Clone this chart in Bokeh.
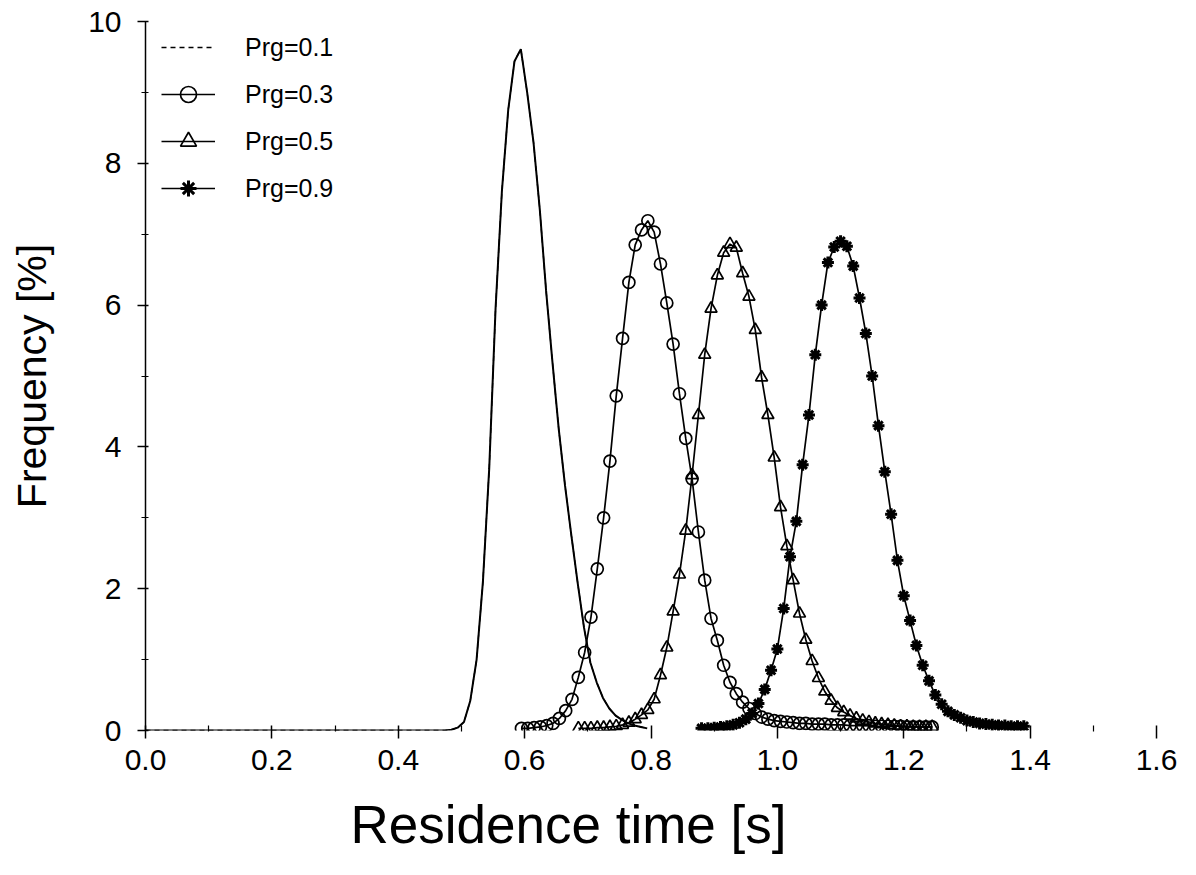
from bokeh.plotting import figure
from bokeh.models import Range1d, Legend, LegendItem, FixedTicker, Title
from bokeh.embed import file_html
from bokeh.resources import INLINE

# ---------------- data ----------------
x_prg01 = [0.0, 0.1, 0.2, 0.3, 0.4, 0.474, 0.484, 0.494, 0.504, 0.514, 0.524, 0.534,
           0.544, 0.554, 0.564, 0.574, 0.584, 0.594, 0.604, 0.614, 0.624, 0.634, 0.644,
           0.654, 0.664, 0.674, 0.684, 0.694, 0.704, 0.714, 0.724, 0.734, 0.744, 0.754,
           0.764, 0.774, 0.784, 0.794]
y_prg01 = [0, 0, 0, 0, 0, 0, 0.01, 0.04, 0.12, 0.42, 1.0, 2.1,
           3.7, 5.95, 7.6, 8.75, 9.44, 9.61, 9.0, 8.3, 7.35, 6.2, 5.2,
           4.25, 3.45, 2.75, 2.08, 1.45, 0.96, 0.68, 0.46, 0.31, 0.21, 0.15,
           0.10, 0.07, 0.05, 0.03]

x_prg03 = [0.595, 0.605, 0.615, 0.625, 0.635, 0.645, 0.655, 0.665, 0.675, 0.685,
           0.695, 0.705, 0.715, 0.725, 0.735, 0.745, 0.755, 0.765, 0.775, 0.785,
           0.795, 0.805, 0.815, 0.825, 0.835, 0.845, 0.855, 0.865, 0.875, 0.885,
           0.895, 0.905, 0.915, 0.925, 0.935, 0.945, 0.955, 0.965, 0.975, 0.985,
           0.995, 1.005, 1.015, 1.025, 1.035, 1.045, 1.055, 1.065, 1.075, 1.085,
           1.095, 1.105, 1.115, 1.125, 1.135, 1.145, 1.155, 1.165, 1.175, 1.185,
           1.195, 1.205, 1.215, 1.225, 1.235, 1.245]
y_prg03 = [0.03, 0.03, 0.04, 0.05, 0.07, 0.10, 0.17, 0.28, 0.44, 0.75,
           1.10, 1.60, 2.28, 3.00, 3.80, 4.72, 5.53, 6.32, 6.85, 7.06,
           7.19, 7.03, 6.58, 6.03, 5.45, 4.75, 4.12, 3.55, 2.80, 2.12,
           1.58, 1.27, 0.92, 0.68, 0.52, 0.40, 0.31, 0.24, 0.19, 0.16,
           0.14, 0.13, 0.12, 0.11, 0.10, 0.10, 0.09, 0.09, 0.09, 0.08,
           0.08, 0.08, 0.07, 0.07, 0.07, 0.07, 0.06, 0.06, 0.06, 0.06,
           0.06, 0.05, 0.05, 0.05, 0.05, 0.05]

x_prg05 = [0.685, 0.695, 0.705, 0.715, 0.725, 0.735, 0.745, 0.755, 0.765, 0.775,
           0.785, 0.795, 0.805, 0.815, 0.825, 0.835, 0.845, 0.855, 0.865, 0.875,
           0.885, 0.895, 0.905, 0.915, 0.925, 0.935, 0.945, 0.955, 0.965, 0.975,
           0.985, 0.995, 1.005, 1.015, 1.025, 1.035, 1.045, 1.055, 1.065, 1.075,
           1.085, 1.095, 1.105, 1.115, 1.125, 1.135, 1.145, 1.155, 1.165, 1.175,
           1.185, 1.195, 1.205, 1.215, 1.225, 1.235, 1.245]
y_prg05 = [0.03, 0.03, 0.03, 0.04, 0.04, 0.05, 0.06, 0.08, 0.11, 0.16,
           0.22, 0.29, 0.44, 0.78, 1.17, 1.68, 2.20, 2.82, 3.60, 4.45,
           5.30, 5.95, 6.42, 6.74, 6.86, 6.81, 6.45, 6.12, 5.65, 4.98,
           4.45, 3.85, 3.15, 2.60, 2.12, 1.65, 1.28, 0.98, 0.74, 0.55,
           0.42, 0.32, 0.26, 0.21, 0.17, 0.14, 0.12, 0.10, 0.09, 0.08,
           0.07, 0.06, 0.06, 0.05, 0.05, 0.05, 0.05]

x_prg09 = [0.88, 0.89, 0.90, 0.91, 0.92, 0.93, 0.94, 0.95, 0.96, 0.97,
           0.98, 0.99, 1.00, 1.01, 1.02, 1.03, 1.04, 1.05, 1.06, 1.07,
           1.08, 1.09, 1.10, 1.11, 1.12, 1.13, 1.14, 1.15, 1.16, 1.17,
           1.18, 1.19, 1.20, 1.21, 1.22, 1.23, 1.24, 1.25, 1.26, 1.27,
           1.28, 1.29, 1.30, 1.31, 1.32, 1.33, 1.34, 1.35, 1.36, 1.37,
           1.38, 1.39]
y_prg09 = [0.03, 0.03, 0.04, 0.05, 0.06, 0.08, 0.11, 0.16, 0.24, 0.38,
           0.58, 0.85, 1.15, 1.72, 2.45, 2.95, 3.75, 4.45, 5.30, 6.00,
           6.60, 6.82, 6.90, 6.83, 6.55, 6.10, 5.60, 5.00, 4.30, 3.65,
           3.05, 2.40, 1.90, 1.55, 1.20, 0.92, 0.70, 0.50, 0.37, 0.27,
           0.22, 0.18, 0.14, 0.12, 0.10, 0.09, 0.08, 0.07, 0.07, 0.06,
           0.06, 0.06]

labels = ["Prg=0.1", "Prg=0.3", "Prg=0.5", "Prg=0.9"]
x_ticks = [0.0, 0.2, 0.4, 0.6, 0.8, 1.0, 1.2, 1.4, 1.6]
x_minor = [0.1, 0.3, 0.5, 0.7, 0.9, 1.1, 1.3, 1.5]
y_ticks = [0, 2, 4, 6, 8, 10]
y_minor = [1, 3, 5, 7, 9]

FONT = "Liberation Sans"

# ---------------- figure ----------------
p = figure(width=1186, height=873, output_backend="svg", toolbar_location=None,
           x_range=Range1d(0, 1.6), y_range=Range1d(0, 10),
           min_border_left=145, min_border_right=30, min_border_top=21,
           min_border_bottom=142)
p.grid.visible = False
p.outline_line_color = None
p.background_fill_color = "white"
p.border_fill_color = "white"

# curves
# dashed copy underneath (only its legend sample is visible)
legend_proxy = p.line(x_prg01, y_prg01, line_color="black", line_width=1.3, line_dash="5 4")
l1 = p.line(x_prg01, y_prg01, line_color="black", line_width=2)

l3 = p.line(x_prg03, y_prg03, line_color="black", line_width=1.7)
m3 = p.scatter(x_prg03, y_prg03, marker="circle", size=12, fill_color=None,
               line_color="black", line_width=1.7)

l5 = p.line(x_prg05, y_prg05, line_color="black", line_width=1.7)
m5 = p.scatter(x_prg05, y_prg05, marker="triangle", size=12, fill_color=None,
               line_color="black", line_width=1.7)

l9 = p.line(x_prg09, y_prg09, line_color="black", line_width=1.7)
m9 = p.scatter(x_prg09, y_prg09, marker="asterisk", size=12,
               line_color="black", line_width=3)

# axes
p.xaxis.ticker = FixedTicker(ticks=x_ticks, minor_ticks=x_minor)
p.xaxis.major_label_overrides = {t: f"{t:.1f}" for t in x_ticks}
p.yaxis.ticker = FixedTicker(ticks=y_ticks, minor_ticks=y_minor)

for ax in (p.xaxis[0], p.yaxis[0]):
    ax.major_label_text_font = FONT
    ax.major_label_text_font_size = "30px"
    ax.major_label_text_color = "black"
    ax.axis_label_text_font = FONT
    ax.axis_label_text_font_style = "normal"
    ax.axis_label_text_color = "black"
    ax.major_tick_line_color = "black"
    ax.minor_tick_line_color = "black"
    ax.major_tick_line_width = 1.5
    ax.minor_tick_line_width = 1.2

p.xaxis.axis_line_color = None
p.xaxis.major_tick_in = 5
p.xaxis.major_tick_out = 8
p.xaxis.minor_tick_in = 5
p.xaxis.minor_tick_out = 1
p.xaxis.major_label_standoff = 11

# x-axis title, placed a little left of centre as in the reference
p.add_layout(Title(text="Residence time [s]", align="left", offset=205,
                   text_font=FONT, text_font_size="53px", text_font_style="normal",
                   text_color="black", text_line_height=0.8, standoff=40), "below")

p.yaxis.axis_line_color = "black"
p.yaxis.axis_line_width = 1.5
p.yaxis.major_tick_in = 3
p.yaxis.major_tick_out = 8
p.yaxis.minor_tick_in = 3
p.yaxis.minor_tick_out = 4
p.yaxis.major_label_standoff = 16
p.yaxis.axis_label = "Frequency [%]"
p.yaxis.axis_label_text_font_size = "41px"
p.yaxis.axis_label_standoff = 30

# legend
items = [
    LegendItem(label=labels[0], renderers=[legend_proxy]),
    LegendItem(label=labels[1], renderers=[l3, m3]),
    LegendItem(label=labels[2], renderers=[l5, m5]),
    LegendItem(label=labels[3], renderers=[l9, m9]),
]
legend = Legend(items=items, location=(16, 522), padding=0, margin=0,
                spacing=7, glyph_height=40, label_height=40, glyph_width=54,
                label_standoff=30, border_line_color=None,
                background_fill_alpha=0,
                label_text_font=FONT, label_text_font_size="25px",
                label_text_color="black")
p.add_layout(legend)

open("out.html", "w").write(file_html(p, INLINE))
